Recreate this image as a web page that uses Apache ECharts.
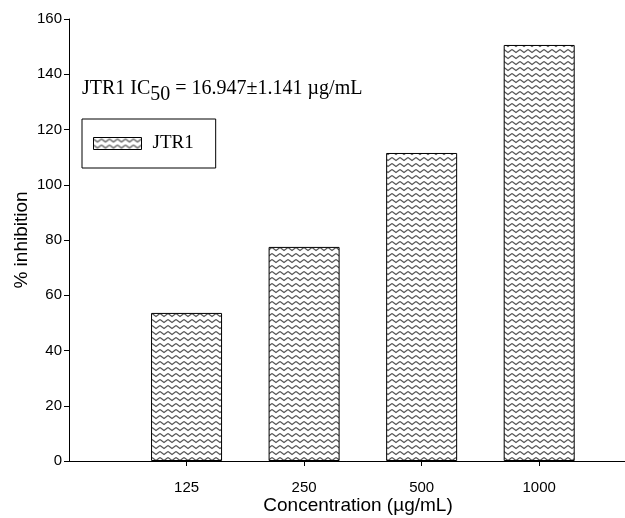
<!DOCTYPE html>
<html><head><meta charset="utf-8">
<script src="https://cdn.jsdelivr.net/npm/echarts@6/dist/echarts.min.js"></script>
<style>html,body{margin:0;padding:0;background:#fff}#c{width:625px;height:518px}</style>
</head><body><div id="c"></div>
<script>
const categories = ['125', '250', '500', '1000'];
const inhibition = [53.6, 77.5, 111.5, 150.6];
const yTicks = [0, 20, 40, 60, 80, 100, 120, 140, 160];
const seriesName = 'JTR1';

function zigzag() {
  const c = document.createElement('canvas');
  c.width = 8; c.height = 6;
  const g = c.getContext('2d');
  g.fillStyle = '#fff'; g.fillRect(0, 0, 8, 6);
  g.strokeStyle = '#555'; g.lineWidth = 1.2;
  g.beginPath();
  g.moveTo(0, 1.5); g.lineTo(4, 4.5); g.lineTo(8, 1.5);
  g.stroke();
  return c;
}
const pat = { image: zigzag(), repeat: 'repeat' };

const chart = echarts.init(document.getElementById('c'), null, { renderer: 'canvas' });
const pos = categories.map((c, i) => [i + 1, inhibition[i]]);
chart.setOption({
  animation: false,
  grid: { left: 69, right: 0, top: 19, bottom: 57, containLabel: false, outerBoundsMode: 'none' },
  xAxis: {
    type: 'value', min: 0, max: 4.73, interval: 1,
    axisLine: { lineStyle: { color: '#000' } },
    axisTick: { show: true, length: 5, lineStyle: { color: '#000' } },
    axisLabel: {
      color: '#000', fontFamily: 'Liberation Sans', fontSize: 15, margin: 19,
      formatter: v => (v >= 1 && v <= categories.length && Number.isInteger(v)) ? categories[v - 1] : '',
      showMinLabel: false, showMaxLabel: false
    },
    splitLine: { show: false },
    name: 'Concentration (µg/mL)', nameLocation: 'middle', nameGap: 35, nameMoveOverlap: false,
    nameTextStyle: { color: '#000', fontFamily: 'Liberation Sans', fontSize: 19, padding: [0, 0, 0, 22] }
  },
  yAxis: {
    type: 'value', min: yTicks[0], max: yTicks[yTicks.length - 1], interval: 20,
    axisLine: { show: true, lineStyle: { color: '#000' } },
    axisTick: { show: true, length: 5, lineStyle: { color: '#000' } },
    axisLabel: { color: '#000', fontFamily: 'Liberation Sans', fontSize: 15, margin: 7 },
    splitLine: { show: false },
    name: '% inhibition', nameLocation: 'middle', nameGap: 38, nameMoveOverlap: false,
    nameTextStyle: { color: '#000', fontFamily: 'Liberation Sans', fontSize: 19 }
  },
  legend: {
    left: 82, top: 119, orient: 'vertical',
    borderColor: '#000', borderWidth: 1, padding: [15, 22, 15, 11],
    itemWidth: 48, itemHeight: 12,
    itemStyle: { borderWidth: 1, borderColor: '#000' },
    textStyle: { color: '#000', fontFamily: 'Liberation Serif', fontSize: 19, padding: [0, 0, 0, 6] },
    data: [{ name: seriesName, icon: 'rect' }]
  },
  series: [{
    name: seriesName, type: 'bar', data: pos, barWidth: 71,
    itemStyle: { color: pat, borderColor: '#000', borderWidth: 1 }
  }],
  graphic: [{
    type: 'text', left: 82, top: 79,
    style: {
      text: 'JTR1 IC{sub|50} = 16.947±1.141 µg/mL',
      fill: '#000', font: '20px "Liberation Serif"',
      rich: { sub: { fontSize: 20, fontFamily: 'Liberation Serif', padding: [12, 0, 0, 0], verticalAlign: 'bottom' } }
    }
  }]
});
</script></body></html>
